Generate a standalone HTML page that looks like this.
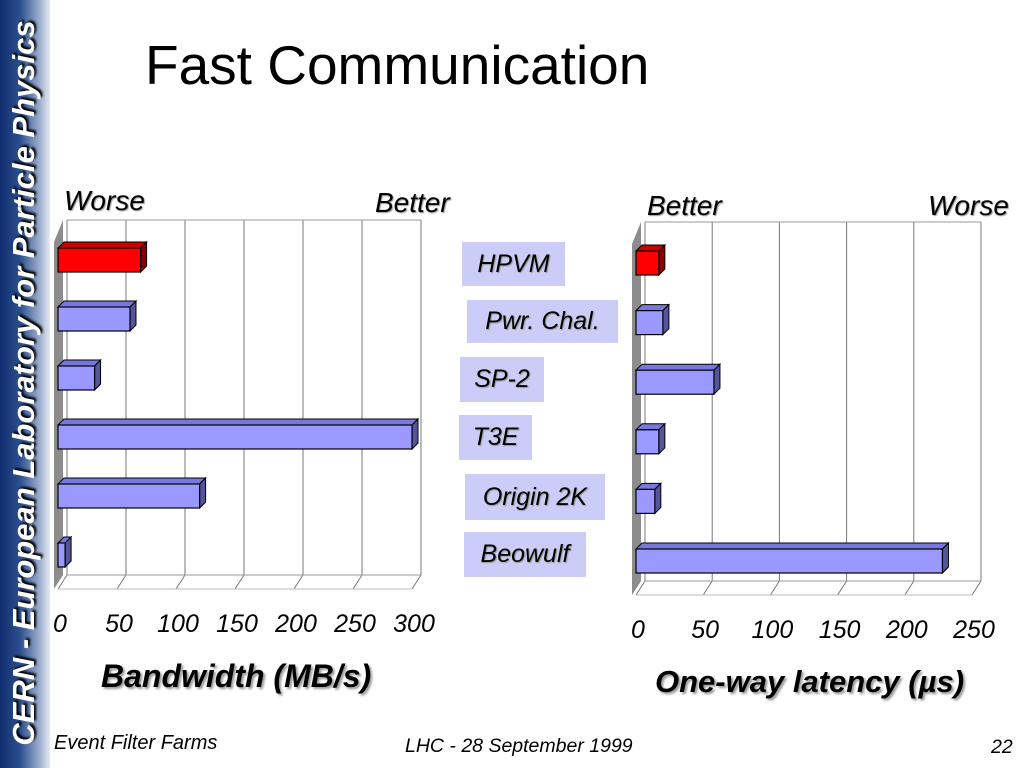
<!DOCTYPE html>
<html><head><meta charset="utf-8">
<style>
body{margin:0;width:1024px;height:768px;background:#fff;overflow:hidden;font-family:"Liberation Sans",sans-serif;position:relative}
#side{position:absolute;left:0;top:0;width:50px;height:768px;background:linear-gradient(90deg,#0f2d6e 0%,#2d4f8e 40%,#9fb0cf 80%,#e6eaf2 100%)}
#side span{position:absolute;left:24px;top:383px;transform:translate(-50%,-50%) rotate(-90deg);white-space:nowrap;color:#fff;font-style:italic;font-weight:bold;font-size:31px;text-shadow:2px 2px 2px #000}
.t{position:absolute;white-space:nowrap;font-style:italic;color:#000}
.lab{position:absolute;background:#ccccf8;font-style:italic;font-size:25px;display:flex;align-items:center;justify-content:center;text-shadow:1px 1px 1px #999}
</style></head><body>
<div id="side"><span>CERN - European Laboratory for Particle Physics</span></div>
<div class="t" style="left:145px;top:33px;font-size:55px;font-style:normal">Fast Communication</div>
<div class="t" style="left:64px;top:185px;font-size:28px;text-shadow:1px 1px 1px #999">Worse</div>
<div class="t" style="left:375px;top:187px;font-size:28px;text-shadow:1px 1px 1px #999">Better</div>
<div class="t" style="left:647px;top:190px;font-size:28px;text-shadow:1px 1px 1px #999">Better</div>
<div class="t" style="left:928px;top:190px;font-size:28px;text-shadow:1px 1px 1px #999">Worse</div>
<div class="lab" style="left:462px;top:242px;width:103px;height:44px">HPVM</div>
<div class="lab" style="left:467px;top:300px;width:151px;height:43px">Pwr. Chal.</div>
<div class="lab" style="left:460px;top:357px;width:84px;height:45px">SP-2</div>
<div class="lab" style="left:459px;top:415px;width:73px;height:45px">T3E</div>
<div class="lab" style="left:465px;top:474px;width:140px;height:46px">Origin 2K</div>
<div class="lab" style="left:464px;top:532px;width:122px;height:45px">Beowulf</div>
<div class="t" style="left:101px;top:658px;font-size:32px;font-weight:bold;text-shadow:2px 2px 2px #999">Bandwidth (MB/s)</div>
<div class="t" style="left:655px;top:664px;font-size:31px;font-weight:bold;text-shadow:2px 2px 2px #999">One-way latency (µs)</div>
<div class="t" style="left:54px;top:732px;font-size:20px">Event Filter Farms</div>
<div class="t" style="left:405px;top:735px;font-size:19.5px">LHC - 28 September 1999</div>
<div class="t" style="left:991px;top:736px;font-size:19.5px">22</div>
<svg id="svg" width="1024" height="768" style="position:absolute;left:0;top:0"></svg>
<script>
const categories=["HPVM","Pwr. Chal.","SP-2","T3E","Origin 2K","Beowulf"];
const bandwidth=[70,61,31,300,120,6];
const latency=[17,20,58,17,14,228];
const bwTicks=[0,50,100,150,200,250,300];
const latTicks=[0,50,100,150,200,250];
const NS="http://www.w3.org/2000/svg";
const svg=document.getElementById('svg');
function mk(tag,a){const e=document.createElementNS(NS,tag);for(const k in a)e.setAttribute(k,a[k]);svg.appendChild(e);return e;}
function chart(cfg,vals,ticks,prefix){
  const x=v=>cfg.x0+(v/ticks[ticks.length-1])*(cfg.x1-cfg.x0);
  const dx=9,dy=14;
  let w=mk('polygon',{points:`${cfg.x0-4},${cfg.top+dy+8} ${cfg.x0-4+dx},${cfg.top} ${cfg.x0-4+dx},${cfg.floor-dy} ${cfg.x0-4},${cfg.floor}`,fill:'#8c8c8c'});
  
  
  ticks.forEach((t,i)=>{
    const xx=x(t);
    let g=mk('line',{x1:xx+dx,y1:cfg.top,x2:xx+dx,y2:cfg.floor-dy,stroke:'#777','stroke-width':1});
    
    
    mk('line',{x1:xx,y1:cfg.floor,x2:xx+dx,y2:cfg.floor-dy,stroke:'#777','stroke-width':1});
    let tx=mk('text',{x:xx+(i==0?2:2),y:cfg.tickY,'text-anchor':'middle','font-size':25,'font-style':'italic','font-family':'Liberation Sans, sans-serif',fill:'#000'});
    tx.textContent=t;
    
    
  });
  mk('line',{x1:x(ticks[0])+dx,y1:cfg.top,x2:x(ticks[ticks.length-1])+dx,y2:cfg.top,stroke:'#999'});
  mk('line',{x1:x(ticks[0])+dx,y1:cfg.floor-dy,x2:x(ticks[ticks.length-1])+dx,y2:cfg.floor-dy,stroke:'#999'});
  mk('line',{x1:x(ticks[0]),y1:cfg.floor,x2:x(ticks[ticks.length-1]),y2:cfg.floor,stroke:'#bbb'});
  vals.forEach((v,i)=>{
    const y0=cfg.barTop+i*cfg.step,h=24,d=6,xe=x(v),xs=cfg.x0;
    const red=i===0;
    const fc=red?'#ff0000':'#9999ff',tc=red?'#cc0000':'#7777dd',sc=red?'#880000':'#555599';
    let g=document.createElementNS(NS,'g');svg.appendChild(g);
    
    
    const add=(tag,a)=>{const e=document.createElementNS(NS,tag);for(const k in a)e.setAttribute(k,a[k]);g.appendChild(e);};
    add('polygon',{points:`${xs},${y0} ${xs+d},${y0-d} ${xe+d},${y0-d} ${xe},${y0}`,fill:tc,stroke:'#000','stroke-width':1});
    add('polygon',{points:`${xe},${y0} ${xe+d},${y0-d} ${xe+d},${y0+h-d} ${xe},${y0+h}`,fill:sc,stroke:'#000','stroke-width':1});
    add('rect',{x:xs,y:y0,width:Math.max(xe-xs,1),height:h,fill:fc,stroke:'#000','stroke-width':1.2});
  });
}
chart({x0:58,x1:412,top:220,floor:589,tickY:632,barTop:248,step:59},bandwidth,bwTicks,'bandwidth');
chart({x0:636,x1:972,top:222,floor:595,tickY:638,barTop:251,step:59.6},latency,latTicks,'latency');
</script>
</body></html>
